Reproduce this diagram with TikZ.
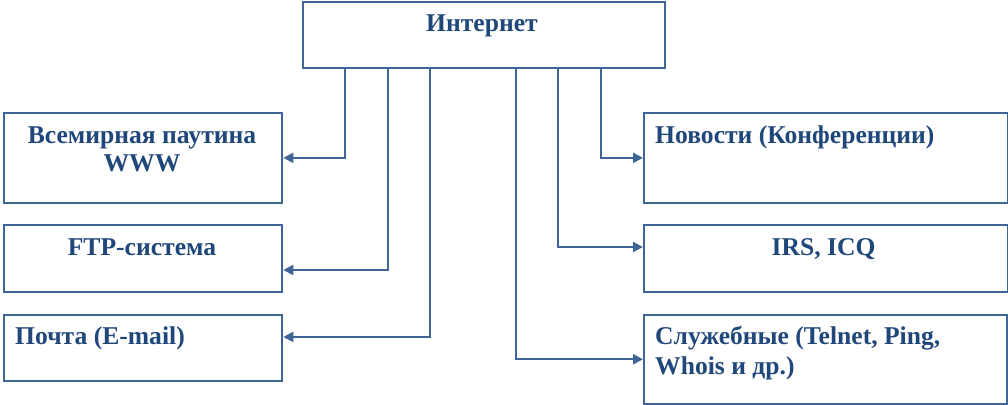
\documentclass[tikz,border=0pt]{standalone}
\usepackage{fontspec}
\setmainfont{Liberation Serif}
\usetikzlibrary{arrows.meta}
\definecolor{linec}{RGB}{63,101,150}
\definecolor{textc}{RGB}{31,71,122}
\tikzset{
  box/.style={draw=linec, line width=2pt, inner sep=0pt, anchor=north west, fill=white},
  lbl/.style={text=textc, font=\bfseries\fontsize{25.6}{28}\selectfont, inner sep=0pt, anchor=base},
  lbll/.style={lbl, anchor=base west},
  conn/.style={draw=linec, line width=2pt, -{Triangle[length=10pt,width=10pt]}},
}
\begin{document}
\begin{tikzpicture}[x=1pt,y=-1pt]
\useasboundingbox (0,0) rectangle (1008,404);
% boxes
\node[box, minimum width=362.3pt, minimum height=66pt] (top) at (301.7,1) {};
\node[box, minimum width=278pt, minimum height=89.7pt] (www) at (3.3,112) {};
\node[box, minimum width=278pt, minimum height=67pt] (ftp) at (3.3,224) {};
\node[box, minimum width=278pt, minimum height=66pt] (mail) at (3.3,314) {};
\node[box, minimum width=363.7pt, minimum height=89.7pt] (news) at (643,112) {};
\node[box, minimum width=363.7pt, minimum height=67pt] (irs) at (643,224) {};
\node[box, minimum width=363pt, minimum height=88.5pt] (serv) at (643,314) {};
% labels
\node[lbl] (tTop) at (482,32) {Интернет};
\node[lbl] (tWww1) at (142,143) {Всемирная паутина};
\node[lbl] (tWww2) at (142,171) {WWW};
\node[lbl] (tFtp) at (142,255) {FTP-система};
\node[lbll] (tMail) at (15,344) {Почта (E-mail)};
\node[lbll] (tNews) at (655,143) {Новости (Конференции)};
\node[lbl] (tIrs) at (823.5,255) {IRS, ICQ};
\node[lbll] (tServ1) at (655,344) {Служебные (Telnet, Ping,};
\node[lbll] (tServ2) at (655,374) {Whois и др.)};
% connectors
\draw[conn] ([xshift=43.3pt]top.south west) |- (www.east);
\draw[conn] ([xshift=86.3pt]top.south west) |- ([yshift=-11.5pt]ftp.east);
\draw[conn] ([xshift=128.6pt]top.south west) |- ([yshift=11pt]mail.east);
\draw[conn] ([xshift=214.3pt]top.south west) |- (serv.west);
\draw[conn] ([xshift=256.6pt]top.south west) |- ([yshift=11.5pt]irs.west);
\draw[conn] ([xshift=299.3pt]top.south west) |- (news.west);
\end{tikzpicture}
\end{document}
